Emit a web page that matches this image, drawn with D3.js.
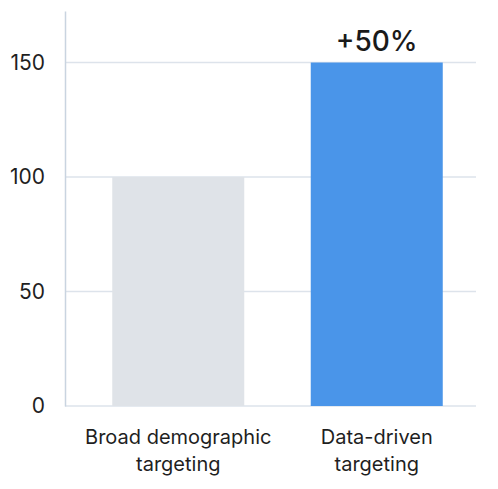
<!DOCTYPE html>
<html><head><meta charset="utf-8">
<script src="https://cdn.jsdelivr.net/npm/d3@7"></script>
<style>body{margin:0;background:#fff}svg{display:block}text{font-family:Inter,"Noto Sans",sans-serif}</style>
</head><body><svg id="c" width="498" height="489"></svg>
<script>
const categories = [["Broad demographic","targeting"],["Data-driven","targeting"]];
const values = [100, 150];
const colors = ["#dfe3e8", "#4a95e9"];
const yTicks = [0, 50, 100, 150];
const annotation = "+50%";

const svg = d3.select("#c");
const x0 = 65, x1 = 476, yBase = 406;
const y = d3.scaleLinear().domain([0, 172.5]).range([yBase, 11]);
const x = d3.scaleBand().domain(d3.range(categories.length)).range([79, 476]).paddingInner(0.335).paddingOuter(0.1675);

// gridlines
svg.append("g").selectAll("line").data(yTicks).join("line")
  .attr("x1", x0).attr("x2", x1).attr("y1", d => y(d)).attr("y2", d => y(d))
  .attr("stroke", "#dde3eb").attr("stroke-width", 1.5);

// bars
svg.append("g").selectAll("rect").data(values).join("rect")
  .attr("x", (d,i) => x(i)).attr("width", x.bandwidth())
  .attr("y", d => y(d)).attr("height", d => yBase - y(d))
  .attr("fill", (d,i) => colors[i]);

// y axis
const ax = svg.append("g").attr("transform", `translate(${x0},0)`)
  .call(d3.axisLeft(y).tickValues(yTicks).tickSize(0).tickPadding(20));
ax.select(".domain").attr("stroke", "#c9d4e0").attr("stroke-width", 1.5);
ax.selectAll("text").attr("font-size", 21).attr("fill", "#1f1f1f").attr("font-family", "Inter");

// x labels
const xl = svg.append("g").selectAll("text").data(categories).join("text")
  .attr("text-anchor", "middle").attr("font-size", 20).attr("fill", "#1f1f1f")
  .attr("x", (d,i) => x(i) + x.bandwidth()/2).attr("y", 444);
xl.selectAll("tspan").data(d => d).join("tspan")
  .attr("x", function(){ return this.parentNode.getAttribute("x"); })
  .attr("dy", (d,i) => i ? 27 : 0).text(d => d);

// annotation
svg.append("text").attr("x", x(1) + x.bandwidth()/2).attr("y", y(values[1]) - 12)
  .attr("text-anchor", "middle").attr("font-size", 28).attr("font-weight", 500)
  .attr("fill", "#1a1a1a").text(annotation);
</script></body></html>
